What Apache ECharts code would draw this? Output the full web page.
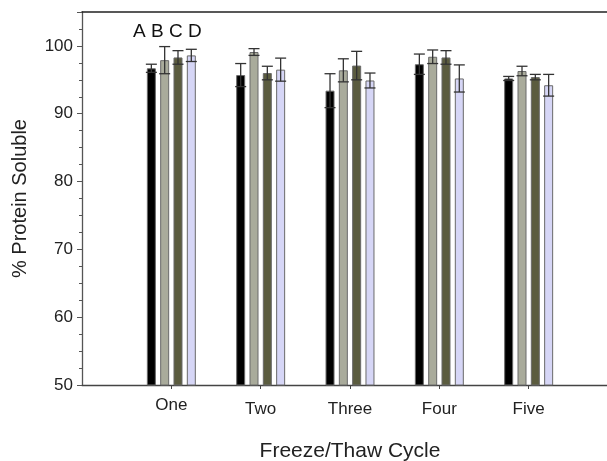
<!DOCTYPE html>
<html>
<head>
<meta charset="utf-8">
<script src="https://cdn.jsdelivr.net/npm/echarts@6/dist/echarts.min.js"></script>
<style>
html, body { margin: 0; padding: 0; background: #fff; }
#chart { width: 607px; height: 461px; }
</style>
</head>
<body>
<div id="chart"></div>
<script>
var categories = ['One', 'Two', 'Three', 'Four', 'Five'];
var seriesNames = ['A', 'B', 'C', 'D'];

var valA = [96.7, 95.7, 93.4, 97.3, 95.2];
var errA = [0.6, 1.7, 2.5, 1.5, 0.3];
var valB = [97.9, 99.1, 96.4, 98.4, 96.3];
var errB = [2.0, 0.5, 1.7, 1.0, 0.7];
var valC = [98.3, 96.0, 97.1, 98.3, 95.4];
var errC = [1.0, 1.0, 2.1, 1.0, 0.4];
var valD = [98.6, 96.5, 94.9, 95.2, 94.2];
var errD = [0.9, 1.7, 1.1, 2.0, 1.6];

var yTicks = [50, 60, 70, 80, 90, 100];

var colors = ['#000000', '#a9ab9b', '#5b5c3f', '#d6d6f6'];
var values = [valA, valB, valC, valD];
var errors = [errA, errB, errC, errD];

var barWidth = 9;
var barGap = 0.48;
var fontFamily = '"Liberation Sans", Arial, sans-serif';

// axis has an empty slot on each side so the groups sit one band in
var axisCats = [''].concat(categories, ['']);

function pad(arr) {
    return ['-'].concat(arr, ['-']);
}

function offsetOf(i) {
    var step = barWidth * (1 + barGap);
    return (i - 1.5) * step;
}

var series = [];
values.forEach(function (vals, i) {
    series.push({
        name: seriesNames[i],
        type: 'bar',
        data: pad(vals),
        barWidth: barWidth,
        barGap: (barGap * 100) + '%',
        itemStyle: { color: colors[i], borderColor: '#6a6a6a', borderWidth: 1 },
        z: 2
    });
});
values.forEach(function (vals, i) {
    series.push({
        type: 'custom',
        z: 5,
        data: vals.map(function (v, k) { return [k + 1, v, errors[i][k]]; }),
        renderItem: function (params, api) {
            var x = api.value(0), v = api.value(1), e = api.value(2);
            var hi = api.coord([x, v + e]);
            var lo = api.coord([x, v - e]);
            var cx = hi[0] + offsetOf(i);
            var half = 5.5;
            var st = { stroke: '#333', lineWidth: 1.3 };
            return {
                type: 'group',
                children: [
                    { type: 'line', shape: { x1: cx, y1: hi[1], x2: cx, y2: lo[1] }, style: st },
                    { type: 'line', shape: { x1: cx - half, y1: hi[1], x2: cx + half, y2: hi[1] }, style: st },
                    { type: 'line', shape: { x1: cx - half, y1: lo[1], x2: cx + half, y2: lo[1] }, style: st }
                ]
            };
        }
    });
});

var chart = echarts.init(document.getElementById('chart'), null, { renderer: 'canvas' });
chart.setOption({
    animation: false,
    textStyle: { fontFamily: fontFamily },
    grid: { left: 82, top: 12, right: -11, bottom: 76, containLabel: false, outerBoundsMode: 'none' },
    xAxis: [{
        type: 'category',
        data: axisCats,
        boundaryGap: false,
        name: 'Freeze/Thaw Cycle',
        nameLocation: 'middle',
        nameGap: 56,
        nameTextStyle: { fontSize: 21, color: '#222', fontFamily: fontFamily },
        axisLine: { lineStyle: { color: '#444', width: 1.3 } },
        axisTick: {
            length: 4,
            lineStyle: { color: '#444' },
            interval: function (idx) { return idx > 0 && idx < axisCats.length - 1; }
        },
        axisLabel: {
            interval: 0,
            margin: 12,
            color: '#222',
            fontSize: 17,
            fontFamily: fontFamily,
            formatter: function (v) { return v === 'One' ? '{up|' + v + '}' : '{dn|' + v + '}'; },
            rich: {
                up: { fontSize: 17, color: '#222', padding: [0, 0, 8, 0] },
                dn: { fontSize: 17, color: '#222', padding: [4, 0, 0, 0] }
            }
        },
        splitLine: { show: false }
    }, {
        type: 'category',
        data: axisCats,
        position: 'top',
        boundaryGap: false,
        axisLine: { lineStyle: { color: '#222', width: 1.5 } },
        axisTick: { show: false },
        axisLabel: { show: false },
        splitLine: { show: false }
    }],
    yAxis: {
        type: 'value',
        min: yTicks[0],
        max: 105,
        interval: 10,
        name: '% Protein Soluble',
        nameLocation: 'middle',
        nameGap: 52,
        nameTextStyle: { fontSize: 20, color: '#222', fontFamily: fontFamily },
        axisLine: { show: true, lineStyle: { color: '#555', width: 1.3 } },
        axisTick: { show: true, length: 5, lineStyle: { color: '#555' } },
        minorTick: { show: true, splitNumber: 4, length: 3, lineStyle: { color: '#555' } },
        axisLabel: { color: '#222', fontSize: 17, margin: 9, showMaxLabel: false, fontFamily: fontFamily },
        splitLine: { show: false }
    },
    graphic: [{
        type: 'text',
        left: 133,
        top: 22,
        style: { text: 'A B C D', fontSize: 19, fill: '#111', fontFamily: fontFamily }
    }],
    series: series
});
</script>
</body>
</html>
